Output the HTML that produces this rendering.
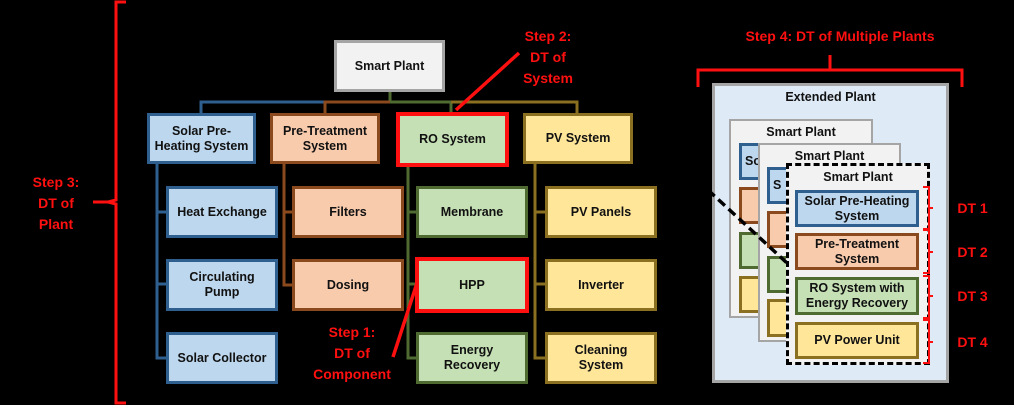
<!DOCTYPE html>
<html><head><meta charset="utf-8"><style>
body{margin:0;width:1014px;height:405px;background:#000;position:relative;overflow:hidden;font-family:"Liberation Sans",sans-serif;}
.b{position:absolute;box-sizing:border-box;border:3px solid;display:flex;align-items:center;justify-content:center;text-align:center;font-weight:bold;font-size:12.5px;line-height:15px;color:#111;overflow:hidden;}
.bl{background:#bdd7ee;border-color:#2e5f8f;}
.or{background:#f8cbad;border-color:#8b4a1e;}
.gr{background:#c5e0b4;border-color:#4f6b31;}
.ye{background:#ffe699;border-color:#8a7020;}
.gy{background:#f2f2f2;border-color:#a5a5a5;}
.red{position:absolute;color:#ff1010;font-weight:bold;font-size:14px;line-height:21px;text-align:center;}
.sp{position:absolute;box-sizing:border-box;background:#f2f2f2;border:2px solid #a5a5a5;}
.lab{position:absolute;left:0;right:0;text-align:center;font-weight:bold;font-size:12.5px;color:#111;}
</style></head><body>
<svg width="1014" height="405" style="position:absolute;left:0;top:0">
<g fill="none" stroke-width="3">
<path d="M390 92V102" stroke="#4f6b31"/>
<path d="M201 113V102H325" stroke="#2e5f8f"/>
<path d="M325 113V102H390" stroke="#8b4a1e"/>
<path d="M390 102H451V113" stroke="#4f6b31"/>
<path d="M451 102H577V113" stroke="#8a7020"/>
<path d="M157 164V358H168M157 212H168M157 284H168" stroke="#2e5f8f"/>
<path d="M284 164V285H293M284 212H293" stroke="#8b4a1e"/>
<path d="M408 167V358H417M408 212H417M408 284H417" stroke="#4f6b31"/>
<path d="M535 164V358H546M535 212H546M535 284H546" stroke="#8a7020"/>
<path d="M126 2H116V200L108 202L116 204V403H126" stroke="#ff1010"/>
<path d="M93 202H108" stroke="#ff1010"/>
<path d="M698 87V70H962V87M830 70V55" stroke="#ff1010"/>
</g>
</svg>
<div class="b gy" style="left:334px;top:40px;width:111px;height:52px">Smart Plant</div>
<div class="b bl" style="left:147px;top:113px;width:109px;height:51px">Solar Pre-<br>Heating System</div>
<div class="b or" style="left:270px;top:113px;width:110px;height:51px">Pre-Treatment<br>System</div>
<div class="b gr" style="left:396px;top:112px;width:113px;height:55px;border:4px solid #ff1010">RO System</div>
<div class="b ye" style="left:523px;top:113px;width:110px;height:51px">PV System</div>

<div class="b bl" style="left:166px;top:186px;width:112px;height:52px">Heat Exchange</div>
<div class="b bl" style="left:166px;top:259px;width:112px;height:52px">Circulating<br>Pump</div>
<div class="b bl" style="left:166px;top:332px;width:112px;height:52px">Solar Collector</div>
<div class="b or" style="left:292px;top:186px;width:112px;height:52px">Filters</div>
<div class="b or" style="left:292px;top:259px;width:112px;height:52px">Dosing</div>
<div class="b gr" style="left:416px;top:186px;width:112px;height:52px">Membrane</div>
<div class="b gr" style="left:415px;top:257px;width:114px;height:56px;border:4px solid #ff1010">HPP</div>
<div class="b gr" style="left:416px;top:332px;width:112px;height:52px">Energy<br>Recovery</div>
<div class="b ye" style="left:545px;top:186px;width:112px;height:52px">PV Panels</div>
<div class="b ye" style="left:545px;top:259px;width:112px;height:52px">Inverter</div>
<div class="b ye" style="left:545px;top:332px;width:112px;height:52px">Cleaning<br>System</div>

<div class="red" style="left:20px;top:172px;width:72px">Step 3:<br>DT of<br>Plant</div>
<div class="red" style="left:508px;top:26px;width:80px">Step 2:<br>DT of<br>System</div>
<div class="red" style="left:307px;top:322px;width:90px">Step 1:<br>DT of<br>Component</div>
<div class="red" style="left:720px;top:26px;width:240px">Step 4: DT of Multiple Plants</div>

<div style="position:absolute;left:712px;top:83px;width:237px;height:300px;box-sizing:border-box;background:#deebf7;border:3px solid #a5a5a5"></div>
<div class="lab" style="left:712px;width:237px;right:auto;top:90px">Extended Plant</div>

<div class="sp" style="left:729px;top:119px;width:144px;height:199px"><div class="lab" style="top:4px">Smart Plant</div></div>
<div class="b bl" style="left:739px;top:143px;width:40px;height:37px;justify-content:flex-start;padding-left:3px">So</div>
<div class="b or" style="left:739px;top:187px;width:40px;height:37px"></div>
<div class="b gr" style="left:739px;top:232px;width:40px;height:37px;justify-content:flex-end;padding-right:0">R<br>E</div>
<div class="b ye" style="left:739px;top:276px;width:40px;height:37px"></div>

<div class="sp" style="left:758px;top:143px;width:143px;height:199px"><div class="lab" style="top:4px">Smart Plant</div></div>
<div class="b bl" style="left:767px;top:167px;width:30px;height:37px;justify-content:flex-start;padding-left:3px">S</div>
<div class="b or" style="left:767px;top:211px;width:30px;height:37px"></div>
<div class="b gr" style="left:767px;top:256px;width:30px;height:37px"></div>
<div class="b ye" style="left:767px;top:299px;width:30px;height:38px"></div>

<div style="position:absolute;left:786px;top:163px;width:144px;height:202px;box-sizing:border-box;background:#f2f2f2;border:3px dashed #000"></div>
<div class="lab" style="left:786px;width:144px;right:auto;top:170px">Smart Plant</div>
<div class="b bl" style="left:795px;top:190px;width:124px;height:37px">Solar Pre-Heating<br>System</div>
<div class="b or" style="left:795px;top:233px;width:124px;height:37px">Pre-Treatment<br>System</div>
<div class="b gr" style="left:795px;top:277px;width:124px;height:38px">RO System with<br>Energy Recovery</div>
<div class="b ye" style="left:795px;top:322px;width:124px;height:37px">PV Power Unit</div>

<svg width="1014" height="405" style="position:absolute;left:0;top:0">
<path d="M708 190L787 263" stroke="#000" stroke-width="3.5" stroke-dasharray="9,5" fill="none"/>
<path d="M456 110L519 53M393 357L417 283" stroke="#ff1010" stroke-width="3.5" fill="none"/>
<g stroke="#ff1010" stroke-width="2" fill="none">
<path d="M923 187H929V229H923M929 208H933"/>
<path d="M923 230H929V273H923M929 252H933"/>
<path d="M923 276H929V318H923M929 296H933"/>
<path d="M923 320H929V363H923M929 342H933"/>
</g>
</svg>
<div class="red" style="left:950px;top:198px;width:45px">DT 1</div>
<div class="red" style="left:950px;top:242px;width:45px">DT 2</div>
<div class="red" style="left:950px;top:286px;width:45px">DT 3</div>
<div class="red" style="left:950px;top:332px;width:45px">DT 4</div>
</body></html>
